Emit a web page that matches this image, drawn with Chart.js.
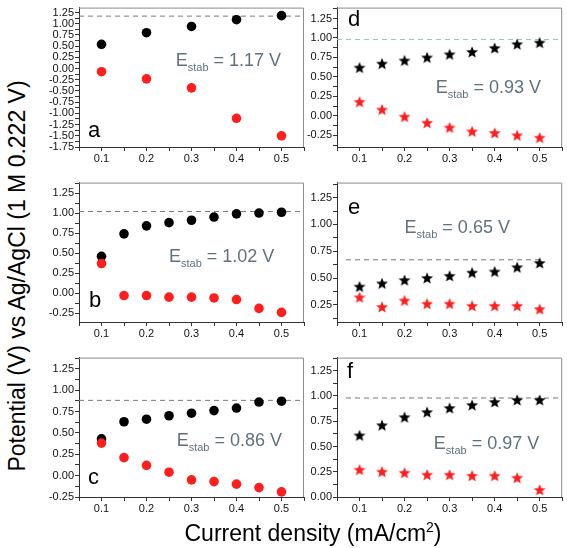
<!DOCTYPE html>
<html>
<head>
<meta charset="utf-8">
<script src="https://cdn.jsdelivr.net/npm/chart.js@4.4.1/dist/chart.umd.min.js"></script>
<style>
  body { margin: 0; background: #fff; }
  #wrap { position: relative; width: 567px; height: 548px; overflow: hidden; font-family: 'Liberation Sans', Arial, sans-serif; }
  canvas { position: absolute; }
  .ytitle { position: absolute; left: 17px; top: 276px; transform: translate(-50%, -50%) rotate(-90deg); white-space: nowrap; font-size: 23px; color: #000; }
  .xtitle { position: absolute; left: 313px; top: 533px; transform: translate(-50%, -50%); white-space: nowrap; font-size: 23px; color: #000; }
  .xtitle sup { font-size: 14px; vertical-align: 9px; line-height: 0; }
</style>
</head>
<body>
<div id="wrap">
  <canvas id="pa" width="270" height="175" style="left:40px;top:0px"></canvas>
  <canvas id="pb" width="270" height="175" style="left:40px;top:175px"></canvas>
  <canvas id="pc" width="270" height="175" style="left:40px;top:350px"></canvas>
  <canvas id="pd" width="270" height="175" style="left:297px;top:0px"></canvas>
  <canvas id="pe" width="270" height="175" style="left:297px;top:175px"></canvas>
  <canvas id="pf" width="270" height="175" style="left:297px;top:350px"></canvas>
  <div class="ytitle">Potential (V) vs Ag/AgCl (1 M 0.222 V)</div>
  <div class="xtitle">Current density (mA/cm<sup>2</sup>)</div>
</div>
<script>
// valores
const xFive = [0.1, 0.2, 0.3, 0.4, 0.5];
const xNine = [0.1, 0.15, 0.2, 0.25, 0.3, 0.35, 0.4, 0.45, 0.5];

const aBlack = [0.54, 0.80, 0.94, 1.09, 1.18];
const aRed = [-0.07, -0.23, -0.43, -1.11, -1.50];
const bBlack = [0.46, 0.74, 0.84, 0.88, 0.91, 0.95, 0.99, 1.00, 1.01];
const bRed = [0.37, -0.03, -0.03, -0.05, -0.05, -0.06, -0.08, -0.19, -0.24];
const cBlack = [0.43, 0.63, 0.66, 0.70, 0.73, 0.76, 0.79, 0.86, 0.87];
const cRed = [0.38, 0.21, 0.12, 0.04, -0.05, -0.07, -0.10, -0.14, -0.19];
const dBlack = [0.62, 0.67, 0.71, 0.75, 0.79, 0.82, 0.87, 0.92, 0.94];
const dRed = [0.18, 0.08, -0.01, -0.09, -0.15, -0.20, -0.22, -0.25, -0.28];
const eBlack = [0.42, 0.45, 0.48, 0.50, 0.52, 0.55, 0.56, 0.60, 0.64];
const eRed = [0.32, 0.23, 0.29, 0.26, 0.26, 0.24, 0.24, 0.24, 0.21];
const fBlack = [0.61, 0.71, 0.79, 0.84, 0.88, 0.91, 0.94, 0.96, 0.96];
const fRed = [0.27, 0.25, 0.24, 0.22, 0.22, 0.21, 0.21, 0.19, 0.07];

const panelLetters = ['a', 'b', 'c', 'd', 'e', 'f'];
const eStabText = ['1.17 V', '1.02 V', '0.86 V', '0.93 V', '0.65 V', '0.97 V'];
const dashLevel = [1.17, 1.02, 0.88, 0.98, 0.67, 0.98];
const dashFrom = [0.05, 0.05, 0.05, 0.05, 0.07, 0.07];
const dashTo = [0.55, 0.55, 0.55, 0.55, 0.50, 0.55];
const yMin = [-1.75, -0.36, -0.25, -0.40, 0.09, 0.00];
const yMax = [1.36, 1.38, 1.38, 1.39, 1.39, 1.38];

const FONT = "'Liberation Sans', Arial, sans-serif";
const RED = '#ff1e1e';

// estrella rellena para los paneles d, e, f
function makeStar(color) {
    const c = document.createElement('canvas');
    c.width = 16; c.height = 16;
    const g = c.getContext('2d');
    const R = 6.3, r = 2.7, cx = 8, cy = 8.5;
    g.beginPath();
    for (let i = 0; i < 10; i++) {
        const rad = i % 2 === 0 ? R : r;
        const ang = -Math.PI / 2 + i * Math.PI / 5;
        const px = cx + rad * Math.cos(ang), py = cy + rad * Math.sin(ang);
        if (i === 0) g.moveTo(px, py); else g.lineTo(px, py);
    }
    g.closePath();
    g.fillStyle = color;
    g.fill();
    return c;
}
const starBlack = makeStar('#000');
const starRed = makeStar(RED);

function pts(xs, ys) {
    return xs.map((x, i) => ({ x: x, y: ys[i] }));
}

function makePanel(id, idx, xs, black, red, star, colLeft, letterPos, estPos, dashColor) {
    const ctx = document.getElementById(id).getContext('2d');

    const decor = {
        id: 'decor' + idx,
        afterDraw(chart) {
            const a = chart.chartArea;
            const g = chart.ctx;
            g.save();
            // marco superior y derecho
            g.strokeStyle = '#8c8c8c';
            g.lineWidth = 1;
            g.beginPath();
            g.moveTo(a.left, a.top + 0.5);
            g.lineTo(a.right - 0.5, a.top + 0.5);
            g.lineTo(a.right - 0.5, a.bottom);
            g.stroke();

            // letra del panel
            g.fillStyle = '#000';
            g.font = '22px ' + FONT;
            g.textBaseline = 'middle';
            g.textAlign = 'left';
            const ly = letterPos[0] === 'top' ? a.top + letterPos[1] : a.bottom - letterPos[1];
            g.fillText(panelLetters[idx], a.left + letterPos[2], ly);

            // E_stab
            const sx = chart.scales.x.getPixelForValue(estPos[0]);
            const sy = chart.scales.y.getPixelForValue(estPos[1]);
            g.fillStyle = '#5f727c';
            g.textBaseline = 'alphabetic';
            g.font = '18px ' + FONT;
            const base = sy + 6;
            g.fillText('E', sx, base);
            let w = g.measureText('E').width;
            g.font = '11px ' + FONT;
            g.fillText('stab', sx + w, base + 5);
            w += g.measureText('stab').width;
            g.font = '18px ' + FONT;
            g.fillText(' = ' + eStabText[idx], sx + w, base);
            g.restore();
        }
    };

    new Chart(ctx, {
        type: 'scatter',
        data: {
            datasets: [
                {
                    data: pts(xs, red),
                    backgroundColor: RED,
                    borderWidth: 0,
                    pointStyle: star ? starRed : 'circle',
                    pointRadius: 4.8
                },
                {
                    data: pts(xs, black),
                    backgroundColor: '#000',
                    borderWidth: 0,
                    pointStyle: star ? starBlack : 'circle',
                    pointRadius: 4.8
                },
                {
                    type: 'line',
                    data: [{ x: dashFrom[idx], y: dashLevel[idx] }, { x: dashTo[idx], y: dashLevel[idx] }],
                    borderColor: dashColor,
                    borderWidth: 1,
                    borderDash: [5, 4],
                    pointRadius: 0,
                    showLine: true
                }
            ]
        },
        options: {
            responsive: false,
            animation: false,
            events: [],
            layout: { padding: { top: 2, right: colLeft ? 6 : 4, left: 0, bottom: 0 } },
            plugins: { legend: { display: false }, tooltip: { enabled: false } },
            scales: {
                x: {
                    type: 'linear',
                    min: 0.05,
                    max: 0.55,
                    afterFit: function(scale) { scale.height = 28; },
                    border: { display: true, color: '#333', width: 1 },
                    grid: { display: true, drawOnChartArea: false, drawTicks: true, tickLength: 4, tickColor: '#333' },
                    ticks: {
                        stepSize: 0.05,
                        includeBounds: false,
                        autoSkip: false,
                        maxRotation: 0,
                        padding: 1,
                        color: '#111',
                        font: { family: FONT, size: 11 },
                        callback: function(value) {
                            const v = value * 10;
                            if (Math.abs(v - Math.round(v)) > 1e-6) return '';
                            return value.toFixed(1);
                        }
                    }
                },
                y: {
                    min: yMin[idx],
                    max: yMax[idx],
                    afterFit: function(scale) { scale.width = colLeft ? 39 : 40; },
                    border: { display: true, color: '#333', width: 1 },
                    grid: { display: true, drawOnChartArea: false, drawTicks: true, tickLength: 4, tickColor: '#333' },
                    ticks: {
                        stepSize: 0.125,
                        includeBounds: false,
                        autoSkip: false,
                        padding: 1,
                        color: '#111',
                        font: { family: FONT, size: 11 },
                        callback: function(value) {
                            const v = value * 4;
                            if (Math.abs(v - Math.round(v)) > 1e-6) return '';
                            return value.toFixed(2);
                        }
                    }
                }
            }
        },
        plugins: [decor]
    });
}

makePanel('pa', 0, xFive, aBlack, aRed, false, true, ['bottom', 16, 9], [0.265, 0.19], '#6f7b80');
makePanel('pb', 1, xNine, bBlack, bRed, false, true, ['bottom', 21, 10], [0.25, 0.46], '#6f7b80');
makePanel('pc', 2, xNine, cBlack, cRed, false, true, ['bottom', 19, 9], [0.267, 0.42], '#6f7b80');
makePanel('pd', 3, xNine, dBlack, dRed, true, false, ['top', 12, 11], [0.269, 0.37], '#94c6c9');
makePanel('pe', 4, xNine, eBlack, eRed, true, false, ['top', 25, 11], [0.20, 0.98], '#6f7b80');
makePanel('pf', 5, xNine, fBlack, fRed, true, false, ['top', 14, 10], [0.265, 0.53], '#6f7b80');
</script>
</body>
</html>
